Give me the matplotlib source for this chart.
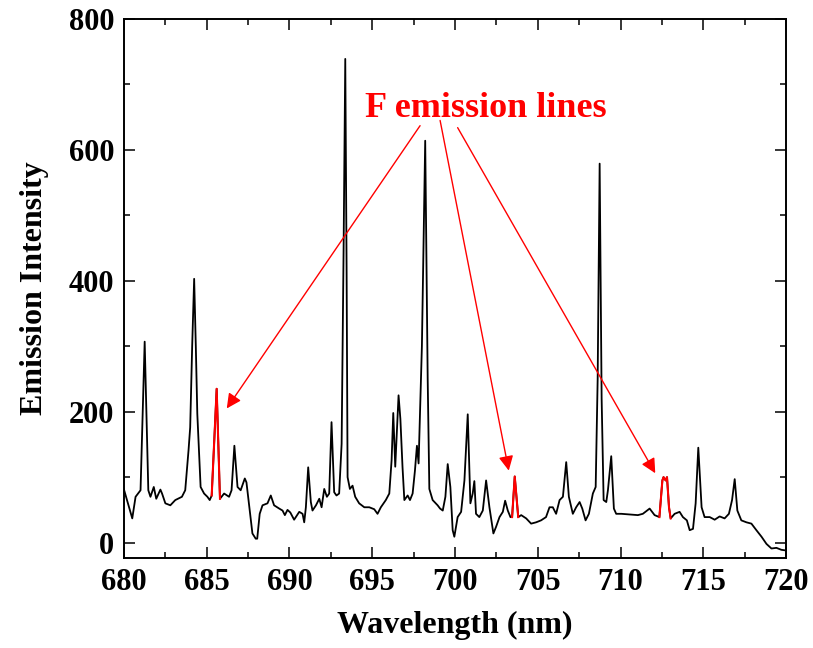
import numpy as np
import matplotlib
matplotlib.use("Agg")
import matplotlib.pyplot as plt
from matplotlib.ticker import MultipleLocator

# Spectre d'émission
wavelength = [
    680.0, 680.5, 680.7, 681.0, 681.25, 681.47, 681.6, 681.8, 681.95, 682.2,
    682.3, 682.5, 682.8, 683.1, 683.5, 683.7, 683.9, 684.0, 684.12, 684.24,
    684.34, 684.43, 684.63, 684.84, 685.04, 685.18, 685.3, 685.6, 685.8, 686.05,
    686.35, 686.5, 686.67, 686.86, 687.05, 687.3, 687.4, 687.6, 687.76, 687.96,
    688.05, 688.2, 688.37, 688.67, 688.87, 689.07, 689.38, 689.58, 689.72, 689.88,
    690.05, 690.28, 690.59, 690.79, 690.89, 690.99, 691.13, 691.29, 691.39, 691.6,
    691.8, 691.94, 692.1, 692.26, 692.4, 692.54, 692.7, 692.84, 693.0, 693.15,
    693.27, 693.37, 693.45, 693.51, 693.65, 693.81, 693.97, 694.21, 694.52, 694.82,
    695.12, 695.32, 695.52, 695.82, 696.03, 696.17, 696.27, 696.39, 696.59, 696.7,
    696.83, 696.94, 697.14, 697.28, 697.44, 697.58, 697.7, 697.8, 698.0, 698.2,
    698.35, 698.45, 698.65, 698.95, 699.1, 699.26, 699.42, 699.56, 699.72, 699.86,
    699.96, 700.16, 700.37, 700.57, 700.77, 700.93, 701.07, 701.17, 701.27, 701.47,
    701.68, 701.88, 702.08, 702.32, 702.48, 702.69, 702.89, 703.03, 703.19, 703.35,
    703.45, 703.61, 703.82, 704.0, 704.3, 704.6, 704.9, 705.2, 705.5, 705.71,
    705.91, 706.11, 706.32, 706.52, 706.72, 706.88, 707.12, 707.32, 707.53, 707.69,
    707.89, 708.09, 708.33, 708.5, 708.62, 708.74, 708.86, 708.98, 709.14, 709.24,
    709.44, 709.6, 709.74, 710.05, 710.55, 711.05, 711.35, 711.76, 712.06, 712.35,
    712.53, 712.6, 712.73, 712.81, 712.93, 713.03, 713.27, 713.57, 713.77, 714.01,
    714.18, 714.38, 714.54, 714.7, 714.9, 715.08, 715.39, 715.69, 715.99, 716.29,
    716.55, 716.74, 716.9, 717.06, 717.3, 717.61, 717.91, 718.21, 718.52, 718.82,
    719.12, 719.42, 719.72, 720.0,
]
intensity = [
    81, 37, 70, 80, 307, 80, 70, 85, 67, 81,
    75, 60, 57, 65, 70, 80, 141, 176, 300, 403,
    300, 197, 85, 75, 70, 65, 72, 235, 67, 75,
    70, 80, 148, 85, 80, 98, 92, 49, 14, 6,
    6, 44, 57, 60, 72, 57, 52, 49, 42, 50,
    46, 35, 47, 44, 31, 54, 115, 62, 49, 57,
    67, 54, 82, 70, 75, 184, 77, 72, 75, 151,
    450, 739, 420, 100, 82, 87, 70, 60, 54, 54,
    51, 44, 54, 65, 75, 126, 198, 116, 225, 189,
    115, 65, 72, 65, 75, 110, 148, 121, 300, 614,
    250, 82, 65, 57, 52, 49, 70, 120, 85, 19,
    9, 39, 47, 95, 196, 60, 75, 94, 44, 39,
    49, 95, 54, 14, 24, 39, 47, 64, 49, 39,
    39, 101, 39, 42, 37, 29, 31, 34, 39, 54,
    54, 44, 65, 70, 123, 70, 44, 54, 62, 52,
    34, 44, 75, 85, 250, 579, 220, 65, 62, 80,
    132, 52, 44, 44, 43, 42, 44, 52, 42, 39,
    95, 100, 95, 100, 54, 37, 44, 47, 39, 34,
    19, 21, 60, 145, 54, 39, 39, 35, 40, 37,
    44, 65, 97, 49, 34, 31, 29, 19, 9, -2,
    -9, -8, -11, -12,
]

# Raies du F (tracées en rouge)
f_ranges = [(685.3, 685.8), (703.45, 703.82), (712.35, 713.03)]

# Flèches : départ sous le texte -> pointe près de chaque raie
arrow_start = [(697.89, 637), (699.10, 645), (700.16, 634)]
arrow_end = [(686.21, 205), (703.25, 110), (712.10, 106)]

label_text = "F emission lines"
label_pos = (701.87, 664)

wl = np.array(wavelength)
it = np.array(intensity)

plt.rcParams["font.family"] = ["Liberation Serif", "DejaVu Serif"]
plt.rcParams["font.weight"] = "bold"

fig = plt.figure(figsize=(8.13, 6.48), dpi=100)
ax = fig.add_axes([0.1525, 0.1389, 0.8143, 0.8318])

ax.plot(wl, it, color="black", lw=1.3)
for a, b in f_ranges:
    m = (wl >= a) & (wl <= b)
    ax.plot(wl[m], it[m], color="red", lw=1.5)

for s, e in zip(arrow_start, arrow_end):
    ax.annotate("", xy=e, xytext=s,
                arrowprops=dict(arrowstyle="-|>", color="red", lw=1.0,
                                mutation_scale=22, shrinkA=0, shrinkB=0))

ax.text(label_pos[0], label_pos[1], label_text, color="red", fontsize=26,
        fontweight="bold", ha="center", va="center")

ax.set_xlim(680, 720)
ax.set_ylim(-23.5, 800)
ax.xaxis.set_major_locator(MultipleLocator(5))
ax.xaxis.set_minor_locator(MultipleLocator(2.5))
ax.yaxis.set_major_locator(MultipleLocator(200))
ax.yaxis.set_minor_locator(MultipleLocator(100))
ax.tick_params(which="both", direction="in", top=True, right=True, width=1.1)
ax.tick_params(which="major", length=8, labelsize=22, pad=7)
ax.tick_params(which="minor", length=4.5)
for sp in ax.spines.values():
    sp.set_linewidth(1.4)

ax.set_xlabel("Wavelength (nm)", fontsize=23, fontweight="bold", labelpad=10)
ax.set_ylabel("Emission Intensity", fontsize=23, fontweight="bold", labelpad=14)

fig.savefig("out.png", dpi=100)
